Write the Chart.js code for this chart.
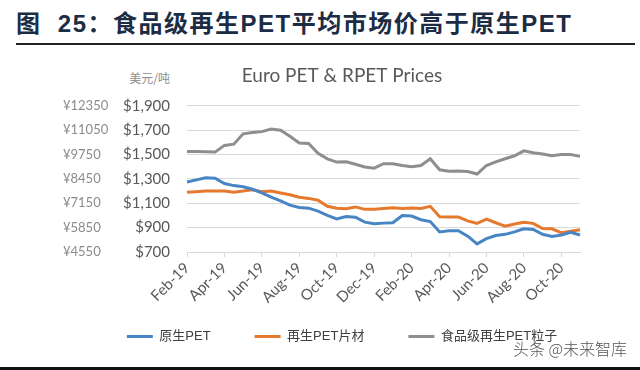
<!DOCTYPE html>
<html>
<head>
<meta charset="utf-8">
<script src="https://cdn.jsdelivr.net/npm/chart.js@4.4.1/dist/chart.umd.min.js"></script>
<style>
  body { margin: 0; background: #fff; width: 640px; height: 370px; position: relative; overflow: hidden; }
  .head { position: absolute; left: 16px; top: 8px; line-height: 31px; font-size: 24px; font-weight: bold; letter-spacing: 1.5px; color: #1c2c44; font-family: "Liberation Sans", "Noto Sans CJK SC", sans-serif; white-space: nowrap; }
  .rule { position: absolute; left: 16px; top: 43px; width: 619px; height: 2px; background: #222; }
  .unit { position: absolute; right: 470px; top: 70px; line-height: 16px; font-size: 12px; color: #8c8c8c; font-family: "Noto Sans CJK SC", sans-serif; }
  .mark { position: absolute; left: 513px; top: 338px; line-height: 20px; font-size: 16px; color: #555; font-family: "Noto Sans CJK SC", sans-serif; font-weight: 300; }
  .bar { position: absolute; left: 0; top: 367px; width: 640px; height: 3px; background: #111; }
  .wrap { position: absolute; left: 0; top: 60px; width: 640px; height: 293px; }
</style>
</head>
<body>
<div class="head">图&nbsp;&nbsp;25：食品级再生PET平均市场价高于原生PET</div>
<div class="rule"></div>
<div class="unit">美元/吨</div>
<div class="wrap"><canvas id="lineChart"></canvas></div>
<div class="mark">头条 @未来智库</div>
<div class="bar"></div>
<script>
// half-month points, Feb-19 .. Nov-20
var periods = ['Feb-19','Feb-19','Mar-19','Mar-19','Apr-19','Apr-19','May-19','May-19','Jun-19','Jun-19',
    'Jul-19','Jul-19','Aug-19','Aug-19','Sep-19','Sep-19','Oct-19','Oct-19','Nov-19','Nov-19',
    'Dec-19','Dec-19','Jan-20','Jan-20','Feb-20','Feb-20','Mar-20','Mar-20','Apr-20','Apr-20',
    'May-20','May-20','Jun-20','Jun-20','Jul-20','Jul-20','Aug-20','Aug-20','Sep-20','Sep-20',
    'Oct-20','Oct-20','Nov-20'];
var tickLabels = ['Feb-19','Apr-19','Jun-19','Aug-19','Oct-19','Dec-19','Feb-20','Apr-20','Jun-20','Aug-20','Oct-20'];

// USD/t
var virginPet = [1275,1292,1310,1305,1262,1245,1235,1215,1185,1150,1120,1085,1065,1060,1035,1000,972,992,985,945,
    932,937,940,1000,995,965,950,865,875,875,830,767,810,835,845,865,890,885,845,828,840,862,840];
var rpetFlake = [1190,1195,1200,1200,1200,1190,1200,1210,1195,1200,1185,1170,1150,1140,1125,1075,1060,1056,1070,1050,
    1050,1058,1064,1058,1062,1058,1075,990,987,987,955,935,970,940,912,930,944,935,893,890,858,870,883];
var foodGradePellet = [1525,1525,1522,1520,1575,1585,1670,1680,1688,1710,1700,1650,1595,1590,1510,1465,1438,1440,1420,1398,
    1388,1425,1425,1410,1400,1410,1465,1375,1362,1365,1360,1340,1410,1440,1465,1490,1530,1515,1505,1490,1500,1500,1485];

var seriesNames = ['原生PET', '再生PET片材', '食品级再生PET粒子'];
var cnyPerUsd = 6.5;

var latin = 'Lato, sans-serif';
var mixed = '"Liberation Sans", "Noto Sans CJK SC", sans-serif';

function lineSet(label, data, color) {
    return {
        label: label,
        data: data,
        borderColor: color,
        backgroundColor: color,
        borderWidth: 3,
        pointRadius: 0,
        tension: 0,
        fill: false
    };
}

var ctx = document.getElementById('lineChart').getContext('2d');
var myChart = new Chart(ctx, {
    type: 'line',
    data: {
        labels: periods,
        datasets: [
            lineSet(seriesNames[0], virginPet, '#4785c4'),
            lineSet(seriesNames[1], rpetFlake, '#e57a2e'),
            lineSet(seriesNames[2], foodGradePellet, '#8e8e8e')
        ]
    },
    options: {
        responsive: true,
        maintainAspectRatio: false,
        animation: false,
        layout: { padding: { left: 63, right: 19, top: 0, bottom: 0 } },
        plugins: {
            title: {
                display: true,
                text: 'Euro PET & RPET Prices',
                color: '#595959',
                font: { family: latin, size: 19, weight: 'normal' },
                padding: { top: 4, bottom: 19 }
            },
            legend: {
                position: 'bottom',
                labels: {
                    usePointStyle: true,
                    pointStyle: 'line',
                    pointStyleWidth: 26,
                    padding: 18,
                    color: '#404040',
                    font: { family: mixed, size: 13 },
                    // wider gaps between entries, like the Excel legend
                    generateLabels: function (chart) {
                        var items = Chart.defaults.plugins.legend.labels.generateLabels(chart);
                        items.forEach(function (it, i) {
                            if (i < items.length - 1) it.text = it.text + '\u3000\u3000';
                        });
                        return items;
                    }
                }
            },
            tooltip: { enabled: false }
        },
        scales: {
            x: {
                grid: {
                    drawOnChartArea: false,
                    tickLength: 5,
                    color: function (c) { return c.index % 4 === 0 ? '#d9d9d9' : 'rgba(0,0,0,0)'; },
                    tickColor: function (c) { return c.index % 4 === 0 ? '#d9d9d9' : 'rgba(0,0,0,0)'; }
                },
                border: { color: '#d9d9d9' },
                ticks: {
                    autoSkip: false,
                    minRotation: 45,
                    maxRotation: 45,
                    padding: 2,
                    color: '#595959',
                    font: { family: latin, size: 15 },
                    callback: function (v, i) { return i % 4 === 0 ? tickLabels[i / 4] : ''; }
                },
                afterFit: function (a) { a.height = 60; }
            },
            yCny: {
                position: 'left',
                weight: 10,
                min: 700,
                max: 1900,
                grid: { display: false },
                border: { display: false },
                ticks: {
                    stepSize: 200,
                    crossAlign: 'far',
                    color: '#8c8c8c',
                    font: { family: latin, size: 13 },
                    callback: function (v) { return '¥' + v * cnyPerUsd; }
                },
                afterFit: function (a) { a.width = 58; }
            },
            y: {
                position: 'left',
                weight: 0,
                min: 700,
                max: 1900,
                grid: { color: '#d9d9d9', drawTicks: false },
                border: { display: false },
                ticks: {
                    stepSize: 200,
                    padding: 17,
                    color: '#595959',
                    font: { family: latin, size: 15 },
                    callback: function (v) { return '$' + v.toLocaleString('en-US'); }
                },
                afterFit: function (a) { a.width = 66; }
            },
            pad: {
                position: 'right',
                grid: { display: false },
                border: { display: false },
                ticks: { display: false },
                afterFit: function (a) { a.width = 41; }
            }
        }
    }
});
</script>
</body>
</html>
